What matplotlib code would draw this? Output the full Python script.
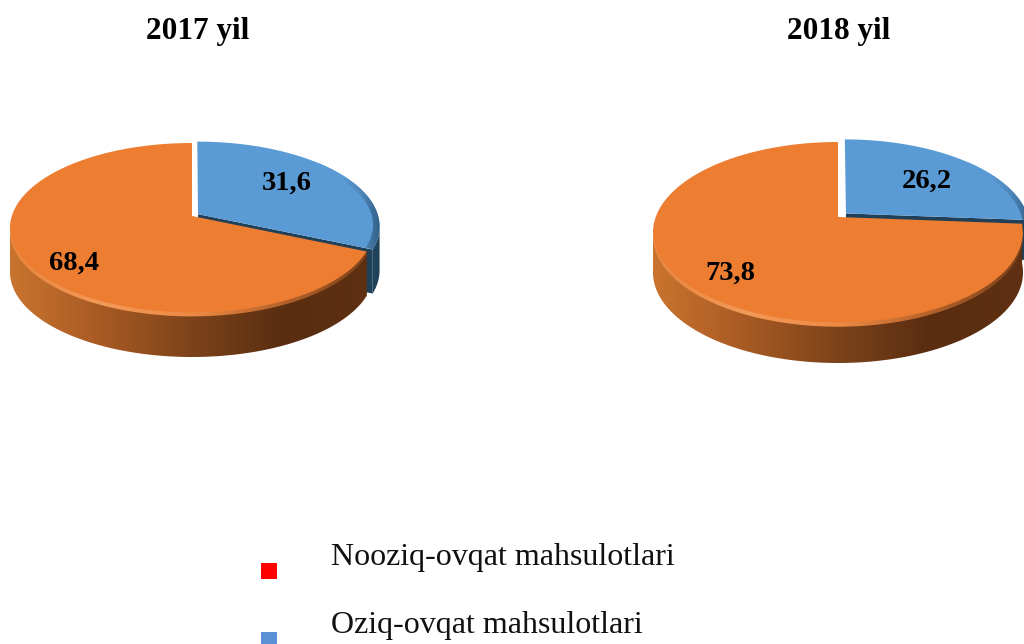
import numpy as np
import matplotlib
matplotlib.use('Agg')
from matplotlib import pyplot as plt
from matplotlib.colors import LinearSegmentedColormap
from matplotlib.patches import Polygon, Rectangle

W, H = 1024, 644

years = ['2017 yil', '2018 yil']
food = [31.6, 26.2]
nonfood = [68.4, 73.8]
legend_labels = ['Nooziq-ovqat mahsulotlari', 'Oziq-ovqat mahsulotlari']
legend_colors = ['#ff0000', '#5b8fd6']

ORANGE = '#ed7d31'
BLUE = '#5b9bd5'

wall_cmap = LinearSegmentedColormap.from_list('wall', ['#c9742f', '#a85a23', '#7c431a', '#5a2d10', '#5f3012'])
rim_cmap = LinearSegmentedColormap.from_list('rim', ['#e9853d', '#f39a58', '#ee8a44', '#b5622a', '#7a4018'])
blue_wall_cmap = LinearSegmentedColormap.from_list('bw', ['#27506f', '#1f4058'])
blue_rim_cmap = LinearSegmentedColormap.from_list('br', ['#5b9bd5', '#5b9bd5', '#4f86b8', '#2d5a80'])

plt.rcParams['font.family'] = ['Liberation Serif', 'DejaVu Serif']
fig = plt.figure(figsize=(W / 100, H / 100), dpi=100)
fig.patch.set_facecolor('white')


def pie_axes(cx, cy, rx, ry):
    # data range -1.3..1.3 / -1.8..1.3 so that one unit is rx, ry pixels
    left = (cx - 1.3 * rx) / W
    bottom = (H - cy - 1.8 * ry) / H
    ax = fig.add_axes([left, bottom, 2.6 * rx / W, 3.1 * ry / H])
    return ax


def shade(ax, xy, cmap, x0, x1, z):
    img = ax.imshow(np.linspace(0, 1, 256).reshape(1, -1), cmap=cmap, aspect='auto',
                    extent=[x0, x1, -2, 2], zorder=z)
    poly = Polygon(xy, closed=True, transform=ax.transData, facecolor='none', edgecolor='none')
    ax.add_patch(poly)
    img.set_clip_path(poly)


def draw_pie(i, cx, cy, rx, ry, back, depth, explode, label_pos):
    ax = pie_axes(cx, cy, rx, ry)

    # perspective: the disc stays an ellipse but the apex sits above its middle
    k = (1 - back) / (1 + back)
    side = np.degrees(np.arcsin(k))  # where the outline is widest

    def warp(xy):
        xy = np.asarray(xy, dtype=float)
        w = 1 + k * xy[:, 1]
        return np.c_[xy[:, 0] * np.sqrt(1 - k ** 2) / w, (1 - k) * xy[:, 1] / w]

    def arc(center, t1, t2, sx=1.0, sy=1.0):
        t = np.radians(np.linspace(t1, t2, 200))
        return warp(np.c_[center[0] + sx * np.cos(t), center[1] + sy * np.sin(t)])

    def band(center, t1, t2, d0, d1):
        # piece of the side surface between the depths d0 and d1
        edge = arc(center, t1, t2)
        return np.vstack([edge - [0, d0], (edge - [0, d1])[::-1]])

    wedges, _ = ax.pie([food[i], nonfood[i]], colors=[BLUE, ORANGE], startangle=90,
                       counterclock=False, explode=[explode, 0],
                       wedgeprops={'linewidth': 0})
    blue, orange = wedges

    # swap the flat wedges for their warped outlines
    for w, z in [(blue, 4), (orange, 8)]:
        outline = np.vstack([warp([w.center]), arc(w.center, w.theta1, w.theta2)])
        ax.add_patch(Polygon(outline, closed=True, facecolor=w.get_facecolor(),
                             edgecolor='none', zorder=z))
        w.set_visible(False)

    d = depth / ry

    # side of the blue slice and its cut face, mostly behind the orange one
    bc = blue.center
    shade(ax, band(bc, blue.theta1, -side, 0, d), blue_wall_cmap, 0, 1.1, 2)
    end = arc(bc, blue.theta1, blue.theta1)[0]
    apex = warp([bc])[0]
    cut = [apex, end, end - [0, d], apex - [0, d]]
    ax.add_patch(Polygon(cut, closed=True, facecolor='#1f4058', edgecolor='none', zorder=3))
    ring = np.vstack([arc(bc, blue.theta1, blue.theta2),
                      arc(bc, blue.theta1, blue.theta2, 0.965, 0.94)[::-1]])
    shade(ax, ring, blue_rim_cmap, 0.7, 1.05, 5)

    # side of the orange slice, from the far left round to the slice border
    oc = orange.center
    shade(ax, band(oc, -180 + side, orange.theta2, 0, d), wall_cmap, -1, 1, 6)
    shade(ax, band(oc, -180 + side, orange.theta2, -0.005, 0.035), rim_cmap, -1, 1, 9)

    ax.set_aspect('auto')
    ax.set_xlim(-1.3, 1.3)
    ax.set_ylim(-1.8, 1.3)
    ax.axis('off')

    for val, (px, py) in zip([food[i], nonfood[i]], label_pos):
        fig.text(px / W, 1 - py / H, str(val).replace('.', ','), fontsize=20.5, fontweight='bold',
                 ha='center', va='center', color='black', zorder=20)


draw_pie(0, 192, 216, 182, 97, 73 / 97, 44, 0.04, [(287, 183), (74, 263)])
draw_pie(1, 838, 217, 185, 106, 75 / 106, 40, 0.06, [(927, 181), (730, 273)])

for year, x in zip(years, [198, 839]):
    fig.text(x / W, 1 - 39 / H, year, fontsize=22.5, fontweight='bold', ha='center', va='baseline')

for label, color, y_text, y_box in zip(legend_labels, legend_colors, [565, 633], [563, 632]):
    fig.add_artist(Rectangle((261 / W, 1 - (y_box + 16) / H), 16 / W, 16 / H, transform=fig.transFigure,
                             facecolor=color, edgecolor='none'))
    fig.text(331 / W, 1 - y_text / H, label, fontsize=23, ha='left', va='baseline', color='#111111')

fig.savefig('out.png', dpi=100)
